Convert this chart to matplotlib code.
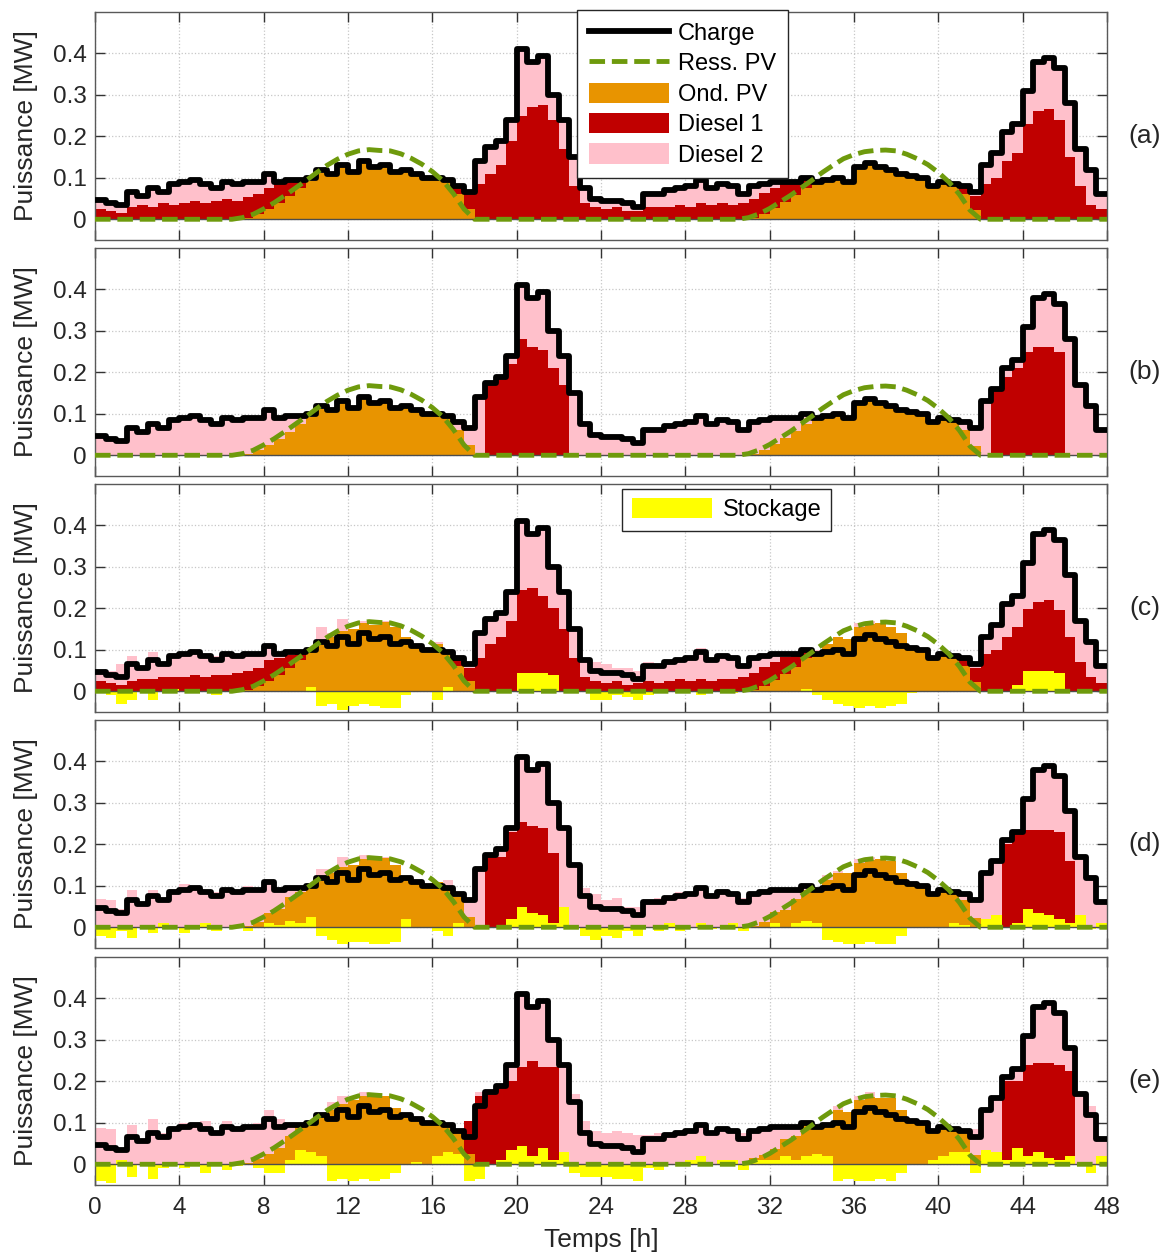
import numpy as np
import matplotlib
matplotlib.use('Agg')
import matplotlib.pyplot as plt
from matplotlib.lines import Line2D
from matplotlib.patches import Patch

plt.rcParams['font.family'] = ['Liberation Sans', 'DejaVu Sans']

# ---------------- data (half-hourly, 0 .. 47.5 h) ----------------
step_h = 0.5

load = [0.047, 0.040, 0.035, 0.065, 0.055, 0.075, 0.065, 0.085, 0.090, 0.095, 0.085, 0.075,
        0.090, 0.085, 0.090, 0.090, 0.110, 0.090, 0.095, 0.095, 0.100, 0.120, 0.110, 0.130,
        0.115, 0.140, 0.125, 0.130, 0.115, 0.120, 0.110, 0.100, 0.100, 0.095, 0.080, 0.065,
        0.140, 0.175, 0.190, 0.240, 0.410, 0.380, 0.395, 0.300, 0.240, 0.150, 0.075, 0.050,
        0.045, 0.045, 0.040, 0.030, 0.060, 0.060, 0.070, 0.075, 0.080, 0.095, 0.075, 0.085,
        0.080, 0.060, 0.080, 0.085, 0.090, 0.090, 0.090, 0.100, 0.090, 0.095, 0.100, 0.090,
        0.125, 0.135, 0.125, 0.120, 0.110, 0.105, 0.100, 0.080, 0.090, 0.085, 0.080, 0.065,
        0.130, 0.160, 0.210, 0.230, 0.310, 0.380, 0.390, 0.365, 0.280, 0.170, 0.120, 0.060]

pv_day1 = [0.004, 0.012, 0.025, 0.040, 0.057, 0.075, 0.093, 0.112, 0.130, 0.145, 0.157,
           0.165, 0.168, 0.166, 0.165, 0.158, 0.147, 0.133, 0.115, 0.093, 0.062, 0.025]
pv_day2 = [0.004, 0.013, 0.026, 0.042, 0.058, 0.076, 0.094, 0.113, 0.130, 0.146, 0.156,
           0.163, 0.166, 0.167, 0.165, 0.157, 0.146, 0.132, 0.113, 0.090, 0.060, 0.022]
pv_res = [0.0] * 14 + pv_day1 + [0.0] * 26 + pv_day2 + [0.0] * 12

d1_a = ([0.025, 0.020, 0.015, 0.030, 0.035, 0.030, 0.040, 0.035, 0.040, 0.045, 0.040, 0.045,
         0.050, 0.045, 0.050, 0.050,
         0.050, 0.045, 0.035, 0.020] + [0.0] * 14 +
        [0.015, 0.035,
         0.085, 0.110, 0.130, 0.190, 0.250, 0.270, 0.275, 0.240, 0.170, 0.080, 0.040, 0.030,
         0.025, 0.030, 0.020, 0.020, 0.030, 0.030, 0.030, 0.035, 0.030, 0.040, 0.035, 0.040,
         0.035, 0.040,
         0.045, 0.050, 0.050, 0.045, 0.030, 0.020] + [0.0] * 14 +
        [0.015, 0.035,
         0.085, 0.100, 0.140, 0.160, 0.230, 0.260, 0.265, 0.240, 0.150, 0.080, 0.035, 0.025])

d1_b = ([0.0] * 37 + [0.170, 0.190, 0.220, 0.280, 0.260, 0.255, 0.210, 0.170] + [0.0] * 40 +
        [0.160, 0.190, 0.210, 0.250, 0.260, 0.260, 0.250] + [0.0] * 4)

d1_c = ([0.025, 0.020, 0.015, 0.025, 0.030, 0.030, 0.035, 0.030, 0.035, 0.035, 0.035, 0.040,
         0.040, 0.040, 0.045, 0.045,
         0.050, 0.040, 0.030, 0.015] + [0.0] * 14 +
        [0.015, 0.030,
         0.080, 0.115, 0.130, 0.170, 0.200, 0.205, 0.185, 0.160, 0.150, 0.080, 0.035, 0.025,
         0.020, 0.025, 0.015, 0.020, 0.025, 0.020, 0.025, 0.030, 0.025, 0.030, 0.025, 0.030,
         0.030, 0.035,
         0.040, 0.045, 0.045, 0.040, 0.030, 0.020] + [0.0] * 14 +
        [0.015, 0.035,
         0.090, 0.100, 0.130, 0.140, 0.150, 0.167, 0.172, 0.152, 0.130, 0.070, 0.035, 0.020])

d1_d = ([0.0] * 37 + [0.170, 0.170, 0.210, 0.205, 0.210, 0.210, 0.170] + [0.0] * 42 +
        [0.200, 0.215, 0.190, 0.200, 0.205, 0.210, 0.150] + [0.0] * 3)

d1_e = ([0.0] * 35 + [0.080, 0.165, 0.170, 0.180, 0.165, 0.190, 0.230, 0.195, 0.225] + [0.0] * 42 +
        [0.190, 0.160, 0.220, 0.215, 0.230, 0.230, 0.205] + [0.0] * 3)

sto_a = [0.0] * 96
sto_b = [0.0] * 96

sto_c = [0, -0.010, -0.030, -0.020, 0, -0.020, 0, 0.005, 0, 0.005, 0, -0.010, 0, 0.005, 0, 0,
         0, 0, 0, 0,
         0.010, -0.035, -0.030, -0.045, -0.035, -0.030, -0.035, -0.040, -0.040, -0.010, 0, 0,
         -0.020, 0.010,
         0, 0,
         0, 0, 0, 0, 0.045, 0.045, 0.045, 0.040, 0, 0, 0, -0.020,
         -0.020, -0.010, -0.015, -0.020, -0.010, 0, 0, -0.005, 0, -0.010, 0, 0, -0.005, 0,
         0, 0, 0, 0, 0, 0.005,
         -0.010, -0.020, -0.030, -0.035, -0.040, -0.035, -0.040, -0.035, -0.030, -0.005, 0, 0,
         0, 0,
         0, 0,
         0, 0, 0, 0.015, 0.048, 0.048, 0.048, 0.045, 0, 0, 0, 0]

sto_d = [-0.020, -0.025, -0.010, -0.025, 0, -0.015, 0.010, 0, -0.015, 0, 0.010, -0.010, 0,
         0.005, -0.010, 0,
         0.010, 0.005, 0.015, 0.010,
         0.025, -0.020, -0.030, -0.040, -0.035, -0.035, -0.040, -0.040, -0.035, 0.020, 0, 0,
         -0.010, -0.020,
         0.010, 0,
         0, 0, 0, 0.020, 0.050, 0.035, 0.030, 0.010, 0.050, 0, -0.020, -0.030,
         -0.020, -0.025, -0.010, -0.020, 0, -0.010, 0.010, -0.010, 0, 0.010, -0.005, 0, 0.010,
         -0.010,
         0, 0, 0.010, 0, 0.010, 0.015,
         0.010, -0.030, -0.035, -0.040, -0.040, -0.035, -0.040, -0.040, -0.020, 0, 0, 0, 0,
         0.010,
         0.005, 0,
         0.020, 0.030, 0, 0.010, 0.045, 0.035, 0.030, 0.020, 0.010, 0.030, -0.005, 0.010]

sto_e = [-0.040, -0.045, 0.010, -0.030, 0, -0.035, -0.010, 0, -0.010, 0, -0.020, 0, -0.015,
         -0.005, 0, -0.010,
         -0.020, -0.020, 0.010, 0.035,
         0.030, 0.020, -0.040, -0.035, -0.040, -0.035, -0.040, -0.035, -0.020, 0, 0.005, 0,
         0.020, 0.030,
         0.025, -0.040,
         -0.035, 0, 0.010, 0.035, 0.045, 0.020, 0.040, 0.010, 0.030, -0.020, -0.030, -0.030,
         -0.030, -0.035, -0.035, -0.040, -0.010, -0.015, 0, 0, 0.010, 0.020, 0, 0.010, 0.010,
         -0.015,
         0.010, 0.010, 0.010, 0.020, 0.010, 0.020,
         0.025, 0.020, -0.040, -0.035, -0.040, -0.040, -0.035, -0.040, -0.020, 0, 0, 0.010,
         0.020, 0.030,
         0.030, -0.020,
         0.035, 0.030, 0.010, 0.040, 0.020, 0.030, 0.015, 0.010, 0.020, 0, -0.020, 0.020]

panel_labels = ['(a)', '(b)', '(c)', '(d)', '(e)']
x_ticks = list(range(0, 49, 4))
y_ticks = [0, 0.1, 0.2, 0.3, 0.4]
y_tick_labels = ['0', '0.1', '0.2', '0.3', '0.4']
legend_main = ['Charge', 'Ress. PV', 'Ond. PV', 'Diesel 1', 'Diesel 2']
legend_sto = ['Stockage']

# ---------------- style ----------------
c_load = 'black'
c_pv = '#6E9A0C'
c_ond = '#E89400'
c_d1 = '#C00000'
c_d2 = '#FFC0CB'
c_sto = '#FFFF00'
txt_col = '#262626'

fig = plt.figure(figsize=(11.69, 12.57), dpi=100)
W, H = 1169, 1257
left_px, right_px = 95, 1107
tops = [12, 248, 484, 720, 957]
h_px = 228
axes = []
for t in tops:
    ax = fig.add_axes([left_px / W, 1 - (t + h_px) / H, (right_px - left_px) / W, h_px / H])
    axes.append(ax)

L = np.array(load)
P = np.array(pv_res)
edges = np.arange(len(L) + 1) * step_h
x_line = edges
load_line = np.append(L, L[-1])
pv_line = np.append(P, P[-1])

d1_list = [d1_a, d1_b, d1_c, d1_d, d1_e]
sto_list = [sto_a, sto_b, sto_c, sto_d, sto_e]

for i, (ax, d1, sto, lab) in enumerate(zip(axes, d1_list, sto_list, panel_labels)):
    d1 = np.array(d1, dtype=float)
    sto = np.array(sto, dtype=float)
    sp = np.clip(sto, 0, None)
    sn = np.clip(sto, None, 0)
    ond = np.clip(np.minimum(P, L - sto), 0, None)
    d2 = np.clip(L - ond - d1 - sto, 0, None)
    y0 = sp
    y1 = y0 + ond
    y2 = y1 + d1
    y3 = y2 + d2
    for top, col in [(y3, c_d2), (y2, c_d1), (y1, c_ond), (y0, c_sto)]:
        ax.stairs(top, edges, baseline=0, fill=True, color=col, lw=0, zorder=2)
    ax.stairs(sn, edges, baseline=0, fill=True, color=c_sto, lw=0, zorder=2)
    ax.axhline(0, color='0.3', lw=1.0, zorder=3)
    ax.plot(x_line, load_line, drawstyle='steps-post', color=c_load, lw=4.2,
            solid_joinstyle='round', solid_capstyle='round', zorder=4)
    ax.plot(x_line, pv_line, color=c_pv, lw=3.5, dashes=(3.2, 1.4), zorder=5)

    ax.set_xlim(0, 48)
    ax.set_ylim(-0.05, 0.5)
    ax.set_xticks(x_ticks)
    ax.set_yticks(y_ticks)
    ax.set_yticklabels(y_tick_labels)
    ax.set_axisbelow(True)
    ax.grid(True, ls=':', color='0.78', lw=0.9)
    ax.tick_params(direction='in', length=7, width=1.0, top=True, right=True,
                   labelsize=17.5, colors='0.2', labelcolor=txt_col)
    ax.tick_params(axis='x', pad=9)
    ax.tick_params(axis='y', pad=6)
    for s in ax.spines.values():
        s.set_color('0.35')
        s.set_linewidth(1.0)
    if i < 4:
        ax.tick_params(labelbottom=False)
    ax.set_ylabel('Puissance [MW]', fontsize=19, color=txt_col)
    ax.yaxis.set_label_coords(-0.0563, 0.5)
    ax.text(1.037, 0.4545, lab, transform=ax.transAxes, ha='center', va='center',
            fontsize=19, color=txt_col)

axes[-1].set_xlabel('Temps [h]', fontsize=19, color=txt_col, va='top')
axes[-1].xaxis.set_label_coords(0.5, -0.19)

h_main = [Line2D([], [], color=c_load, lw=4.2),
          Line2D([], [], color=c_pv, lw=3.5, dashes=(3.2, 1.4)),
          Patch(facecolor=c_ond, edgecolor='none'),
          Patch(facecolor=c_d1, edgecolor='none'),
          Patch(facecolor=c_d2, edgecolor='none')]
leg = axes[0].legend(h_main, legend_main, loc='upper left', bbox_to_anchor=(0.476, 1.009),
                     borderaxespad=0, fontsize=17, handlelength=3.4, handleheight=0.95,
                     handletextpad=0.4, labelspacing=0.3, borderpad=0.5, fancybox=False,
                     framealpha=1, edgecolor='0.15')
leg.get_frame().set_linewidth(1.0)
leg.set_zorder(10)

leg2 = axes[2].legend([Patch(facecolor=c_sto, edgecolor='none')], legend_sto, loc='upper left',
                      bbox_to_anchor=(0.521, 0.978), borderaxespad=0, fontsize=17,
                      handlelength=3.4, handleheight=0.9, handletextpad=0.45, borderpad=0.4,
                      fancybox=False, framealpha=1, edgecolor='0.15')
leg2.get_frame().set_linewidth(1.0)
leg2.set_zorder(10)

fig.savefig('out.png', dpi=100)
